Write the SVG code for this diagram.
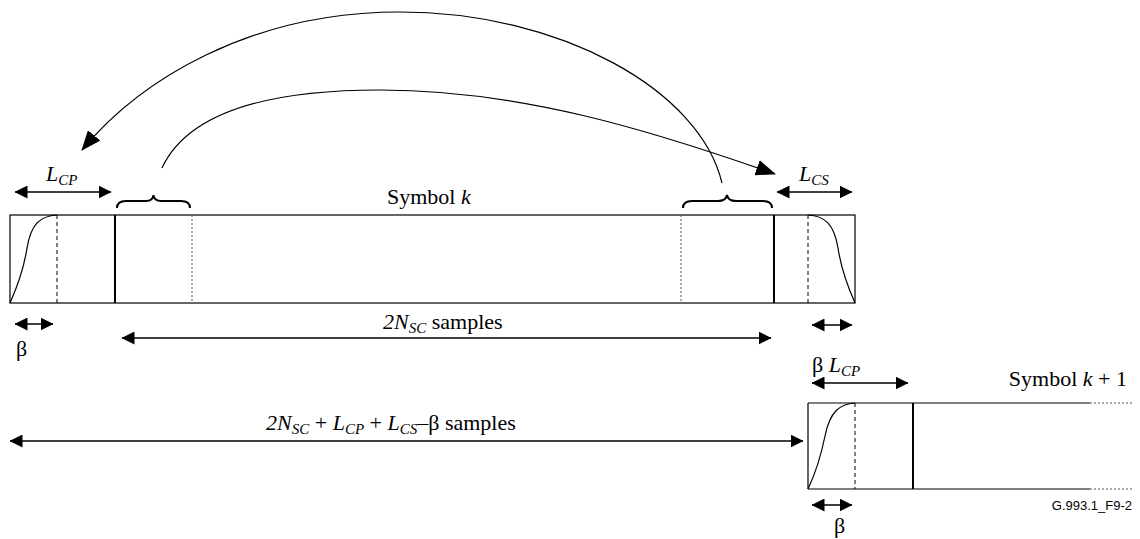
<svg xmlns="http://www.w3.org/2000/svg" width="1140" height="539" viewBox="0 0 1140 539">
<style>
.ln{stroke:#000;stroke-width:1.2;fill:none}
.box{stroke:#000;stroke-width:1.2;fill:#fff}
.thick{stroke:#000;stroke-width:2;fill:none}
.dash{stroke:#000;stroke-width:1;stroke-dasharray:4,3;fill:none}
.dot{stroke:#555;stroke-width:1;stroke-dasharray:2,2;fill:none}
.arr{stroke:#000;stroke-width:1.3;fill:none;marker-start:url(#ah);marker-end:url(#ah)}
.arc{stroke:#000;stroke-width:1.2;fill:none}
.brace{stroke:#000;stroke-width:2;fill:none}
.t{font-family:'Liberation Serif','DejaVu Serif','Times New Roman',serif;font-size:22px;fill:#000}
.i{font-style:italic}
.sub{font-size:15px;font-style:italic}
.small{font-family:'Liberation Sans','DejaVu Sans',Arial,sans-serif;font-size:13px;fill:#000}
</style>
<defs>
<marker id="ah" viewBox="0 0 13 13" refX="12.5" refY="6.5" markerWidth="13" markerHeight="13" markerUnits="userSpaceOnUse" orient="auto-start-reverse">
<path d="M0,0 L13,6.5 L0,13 Z" fill="#000"/>
</marker>
<marker id="ahb" viewBox="0 0 20 16" refX="19" refY="8" markerWidth="20" markerHeight="16" markerUnits="userSpaceOnUse" orient="auto">
<path d="M0,0 L20,8 L0,16 Z" fill="#000"/>
</marker>
</defs>

<g id="symbol-k">
<rect class="box" x="10" y="215" width="845" height="88"/>
<line class="thick" x1="115" y1="215" x2="115" y2="303"/>
<line class="thick" x1="774" y1="215" x2="774" y2="303"/>
<line class="dash" x1="57" y1="215" x2="57" y2="303"/>
<line class="dash" x1="808" y1="215" x2="808" y2="303"/>
<line class="dot" x1="192" y1="215" x2="192" y2="303"/>
<line class="dot" x1="681" y1="215" x2="681" y2="303"/>
<path class="ln" d="M10,303 C18,285 24,268 27,248 C31,224 40,216 57,215"/>
<path class="ln" d="M808,215 C825,216 834,224 838,248 C841,268 847,285 855,303"/>
<text class="t" x="387" y="204" font-family="Liberation Serif, serif">Symbol <tspan class="i">k</tspan></text>
</g>

<g id="braces">
<path class="brace" d="M117,208 Q117,201 126,201 L146,201 Q153,201 153.5,195 Q154,201 161,201 L181,201 Q190,201 190,208"/>
<path class="brace" d="M683,208 Q683,201 692,201 L718,201 Q726,201 727,195 Q728,201 736,201 L763,201 Q772,201 772,208"/>
</g>

<g id="symbol-k1">
<line class="ln" x1="808" y1="403" x2="1090" y2="403"/>
<line class="ln" x1="808" y1="489" x2="1090" y2="489"/>
<line class="dot" x1="1090" y1="403" x2="1132" y2="403"/>
<line class="dot" x1="1090" y1="489" x2="1132" y2="489"/>
<line class="ln" x1="808" y1="403" x2="808" y2="489"/>
<line class="thick" x1="913" y1="403" x2="913" y2="489"/>
<line class="dash" x1="855" y1="403" x2="855" y2="489"/>
<path class="ln" d="M808,489 C816,472 821,456 825,436 C830,411 840,404 855,403"/>
<text class="t" x="1127" y="386" text-anchor="end" font-family="Liberation Serif, serif">Symbol <tspan class="i">k</tspan> + 1</text>
<text class="small" x="1132" y="510" text-anchor="end" font-family="Liberation Sans, sans-serif">G.993.1_F9-2</text>
</g>

<g id="connectors">
<path class="arc" marker-end="url(#ahb)" d="M722,183 C700,90 560,12 400,12 C250,12 140,80 82,150"/>
<path class="arc" marker-end="url(#ahb)" d="M162,168 C190,108 280,90 380,90 C520,90 650,130 775,174"/>
<line class="arr" x1="15" y1="192" x2="111" y2="192"/>
<line class="arr" x1="777" y1="192" x2="852" y2="192"/>
<line class="arr" x1="15" y1="324" x2="53" y2="324"/>
<line class="arr" x1="812" y1="325" x2="852" y2="325"/>
<line class="arr" x1="122" y1="338" x2="771" y2="338"/>
<line class="arr" x1="10" y1="441" x2="803" y2="441"/>
<line class="arr" x1="812" y1="383" x2="908" y2="383"/>
<line class="arr" x1="812" y1="505" x2="852" y2="505"/>
</g>

<g id="labels" font-family="Liberation Serif, serif">
<text class="t" x="46" y="181"><tspan class="i">L</tspan><tspan class="sub" dy="4">CP</tspan></text>
<text class="t" x="799" y="181"><tspan class="i">L</tspan><tspan class="sub" dy="4">CS</tspan></text>
<text class="t" x="16" y="356">β</text>
<text class="t" x="834" y="533">β</text>
<text class="t" x="812" y="372">β <tspan class="i">L</tspan><tspan class="sub" dy="4">CP</tspan></text>
<text class="t" x="383" y="329"><tspan class="i">2N</tspan><tspan class="sub" dy="4">SC</tspan><tspan dy="-4"> samples</tspan></text>
<text class="t" x="266" y="430"><tspan class="i">2N</tspan><tspan class="sub" dy="4">SC</tspan><tspan dy="-4"> + </tspan><tspan class="i">L</tspan><tspan class="sub" dy="4">CP</tspan><tspan dy="-4"> + </tspan><tspan class="i">L</tspan><tspan class="sub" dy="4">CS</tspan><tspan dy="-4">–β  samples</tspan></text>
</g>
</svg>
